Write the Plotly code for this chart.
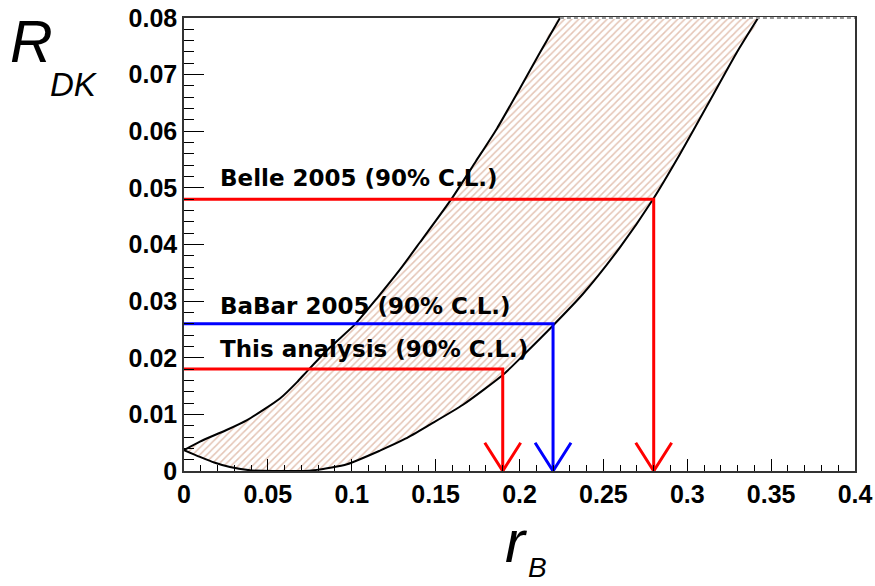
import plotly.graph_objects as go

# Left/upper boundary of the band (r_B, R_DK)
band_a_x = [0.0, 0.0095, 0.0250, 0.0376, 0.0572, 0.0674, 0.0733, 0.0870, 0.1019, 0.1150, 0.1288, 0.1407, 0.1598, 0.1740, 0.1866, 0.2003, 0.2122, 0.2241]
band_a_y = [0.0037, 0.0052, 0.0072, 0.0090, 0.0128, 0.0157, 0.0176, 0.0218, 0.0259, 0.0305, 0.0356, 0.0404, 0.0482, 0.0547, 0.0605, 0.0676, 0.0739, 0.0800]

# Right/lower boundary of the band
band_b_x = [0.0, 0.0095, 0.0180, 0.0274, 0.0405, 0.0550, 0.0680, 0.0793, 0.0972, 0.1168, 0.1320, 0.1466, 0.1663, 0.1902, 0.2021, 0.2200, 0.2379, 0.2599, 0.2796, 0.2957, 0.3118, 0.3297, 0.3422]
band_b_y = [0.0037, 0.0025, 0.0015, 0.0007, 0.0001, 0.0, 0.0, 0.0002, 0.0012, 0.0036, 0.0057, 0.0082, 0.0117, 0.0170, 0.0204, 0.0257, 0.0313, 0.0395, 0.0480, 0.0560, 0.0645, 0.0740, 0.0800]

# Upper limits
limit_labels = ["Belle 2005 (90% C.L.)", "BaBar 2005 (90% C.L.)", "This analysis (90% C.L.)"]
limit_rdk = [0.048, 0.026, 0.018]
limit_rb = [0.28, 0.22, 0.19]
limit_colors = ["#ff0000", "#0000ff", "#ff0000"]
label_y = [0.0518, 0.0292, 0.0216]

x_ticks = [0, 0.05, 0.1, 0.15, 0.2, 0.25, 0.3, 0.35, 0.4]
x_ticklabels = ["0", "0.05", "0.1", "0.15", "0.2", "0.25", "0.3", "0.35", "0.4"]
y_ticks = [0, 0.01, 0.02, 0.03, 0.04, 0.05, 0.06, 0.07, 0.08]
y_ticklabels = ["0", "0.01", "0.02", "0.03", "0.04", "0.05", "0.06", "0.07", "0.08"]

fig = go.Figure()

# hatched band
poly_x = band_a_x + band_b_x[::-1]
poly_y = band_a_y + band_b_y[::-1]
fig.add_trace(go.Scatter(
    x=poly_x, y=poly_y, mode="lines", fill="toself",
    line=dict(width=0, color="rgba(0,0,0,0)", shape="spline", smoothing=0.6),
    fillcolor="rgba(255,255,255,0)",
    fillpattern=dict(shape="/", fgcolor="#c98a6c", bgcolor="rgba(255,255,255,0)", size=5, solidity=0.3),
    hoverinfo="skip", showlegend=False))

fig.add_trace(go.Scatter(x=band_a_x, y=band_a_y, mode="lines",
                         line=dict(color="black", width=2, shape="spline", smoothing=0.6), showlegend=False))
fig.add_trace(go.Scatter(x=band_b_x, y=band_b_y, mode="lines",
                         line=dict(color="black", width=2, shape="spline", smoothing=0.6), showlegend=False))

head_dx = 0.0107
head_dy = 0.005
for lab, r, xb, c, ly in zip(limit_labels, limit_rdk, limit_rb, limit_colors, label_y):
    fig.add_trace(go.Scatter(x=[0, xb, xb], y=[r, r, 0], mode="lines",
                             line=dict(color=c, width=3), showlegend=False))
    fig.add_trace(go.Scatter(x=[xb - head_dx, xb, xb + head_dx], y=[head_dy, 0, head_dy], mode="lines",
                             line=dict(color=c, width=3), showlegend=False))
    fig.add_annotation(x=0.0200, y=ly, xref="x", yref="y", text=lab, showarrow=False,
                       xanchor="left", yanchor="middle",
                       font=dict(family="DejaVu Sans", size=23, color="black", weight="bold"))

# dashed part of top frame
fig.add_shape(type="line", xref="x", yref="paper", x0=band_a_x[-1], x1=0.4, y0=1, y1=1,
              line=dict(color="white", width=2))
fig.add_shape(type="line", xref="x", yref="paper", x0=band_a_x[-1], x1=0.4, y0=1, y1=1,
              line=dict(color="#777777", width=1.5, dash="4px,3px"))

# axis titles
title_font = dict(family="Liberation Sans", color="black")
fig.add_annotation(x=-0.2620, y=0.9460, xref="paper", yref="paper", text="<i>R</i>", showarrow=False,
                   xanchor="left", yanchor="middle", font=dict(size=59, **title_font))
fig.add_annotation(x=-0.2020, y=0.8540, xref="paper", yref="paper", text="<i>DK</i>", showarrow=False,
                   xanchor="left", yanchor="middle", font=dict(size=33, **title_font))
fig.add_annotation(x=0.4760, y=-0.1560, xref="paper", yref="paper", text="<i>r</i>", showarrow=False,
                   xanchor="left", yanchor="middle", font=dict(size=60, **title_font))
fig.add_annotation(x=0.5090, y=-0.2140, xref="paper", yref="paper", text="<i>B</i>", showarrow=False,
                   xanchor="left", yanchor="middle", font=dict(size=28, **title_font))

tickfont = dict(family="Liberation Sans", size=25, color="black", weight="bold")
fig.update_xaxes(range=[0, 0.4], tickvals=x_ticks, ticktext=x_ticklabels, automargin=False,
                 ticks="inside", ticklen=12, tickcolor="black", tickwidth=1,
                 minor=dict(dtick=0.01, ticks="inside", ticklen=6, tickcolor="black", tickwidth=1),
                 showline=True, linecolor="#333333", linewidth=1.5, mirror=True,
                 showgrid=False, zeroline=False, tickfont=tickfont)
fig.update_yaxes(range=[0, 0.08], tickvals=y_ticks, ticktext=y_ticklabels, automargin=False,
                 ticks="inside", ticklen=20, tickcolor="black", tickwidth=1,
                 minor=dict(dtick=0.002, ticks="inside", ticklen=10, tickcolor="black", tickwidth=1),
                 showline=True, linecolor="#333333", linewidth=1.5, mirror=True,
                 showgrid=False, zeroline=False, tickfont=tickfont)

fig.update_layout(width=875, height=586, margin=dict(l=184, r=20, t=18, b=115),
                  plot_bgcolor="white", paper_bgcolor="white", showlegend=False)

fig.write_html("out.html")
